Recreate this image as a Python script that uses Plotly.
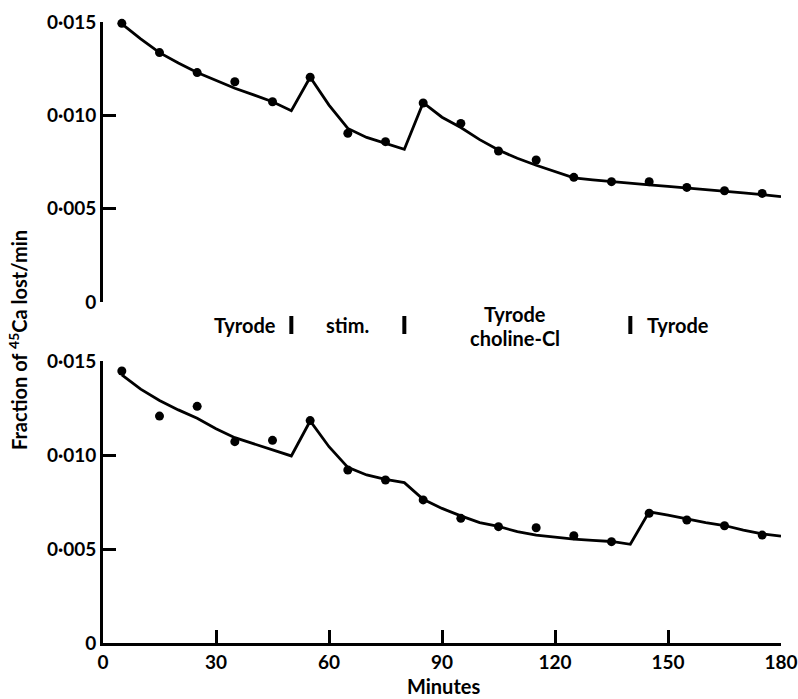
import plotly.graph_objects as go
from plotly.subplots import make_subplots

# ---- data ----
minutes_pts = [5, 15, 25, 35, 45, 55, 65, 75, 85, 95, 105, 115, 125, 135, 145, 155, 165, 175]
top_pts = [0.01493, 0.01336, 0.01229, 0.01180, 0.01073, 0.01204, 0.00904, 0.00859, 0.01066,
           0.00957, 0.00809, 0.00761, 0.00668, 0.00645, 0.00645, 0.00614, 0.00596, 0.00582]
bottom_pts = [0.01447, 0.01207, 0.01259, 0.01071, 0.01078, 0.01183, 0.00920, 0.00867, 0.00761,
              0.00663, 0.00619, 0.00613, 0.00571, 0.00539, 0.00690, 0.00654, 0.00624, 0.00574]

curve_x = [5, 10, 15, 20, 25, 30, 35, 40, 45, 50, 55, 60, 65, 70, 75, 80, 85, 90, 95, 100,
           105, 110, 115, 120, 125, 130, 135, 140, 145, 150, 155, 160, 165, 170, 175, 180]
top_curve = [0.0149, 0.0141, 0.01336, 0.0128, 0.01229, 0.01185, 0.01145, 0.0111, 0.01073, 0.01025,
             0.01204, 0.01055, 0.0093, 0.00882, 0.0085, 0.00818, 0.01068, 0.0099, 0.00935, 0.0087,
             0.00814, 0.0077, 0.00733, 0.00698, 0.00665, 0.00655, 0.00645, 0.00637, 0.00628, 0.0062,
             0.00612, 0.00603, 0.00595, 0.00585, 0.00576, 0.00565]
bottom_curve = [0.01426, 0.01350, 0.01290, 0.0124, 0.01195, 0.0114, 0.01092, 0.0106, 0.01027, 0.00995,
                0.01181, 0.01044, 0.00934, 0.00894, 0.0087, 0.00853, 0.00764, 0.00716, 0.00676, 0.0064,
                0.0062, 0.00592, 0.00574, 0.00562, 0.00553, 0.00546, 0.0054, 0.00525, 0.00698, 0.0068,
                0.0066, 0.0064, 0.00625, 0.0060, 0.0058, 0.00569]

x_ticks = [0, 30, 60, 90, 120, 150, 180]
y_ticks = [0, 0.005, 0.010, 0.015]
y_tick_labels = ["0", "0·005", "0·010", "0·015"]

transitions = [50, 80, 140]

FONT = "Lato"

fig = make_subplots(rows=2, cols=1, shared_xaxes=False, vertical_spacing=0.0)

for row, pts, curve in [(1, top_pts, top_curve), (2, bottom_pts, bottom_curve)]:
    fig.add_trace(go.Scatter(x=curve_x, y=curve, mode="lines",
                             line=dict(color="black", width=2.8), cliponaxis=False,
                             showlegend=False, hoverinfo="skip"), row=row, col=1)
    fig.add_trace(go.Scatter(x=minutes_pts, y=pts, mode="markers",
                             marker=dict(color="black", size=9), cliponaxis=False,
                             showlegend=False), row=row, col=1)

tickfont = dict(family=FONT, size=19, color="black", weight="bold")

fig.update_yaxes(range=[0, 0.015], tickvals=y_ticks, ticktext=y_tick_labels,
                 ticks="inside", ticklen=13, tickwidth=3, tickcolor="black",
                 showline=True, linewidth=3, linecolor="black", automargin=False,
                 showgrid=False, zeroline=False, tickfont=tickfont)
fig.update_xaxes(range=[0, 180], showgrid=False, zeroline=False, automargin=False)

fig.update_layout(
    yaxis=dict(domain=[0.549, 1.0]),
    yaxis2=dict(domain=[0.0, 0.4541]),
    xaxis=dict(visible=False, range=[0, 180]),
    xaxis2=dict(range=[0, 180], tickvals=x_ticks, ticks="inside", ticklen=13, tickwidth=3,
                tickcolor="black", showline=True, linewidth=3, linecolor="black",
                tickfont=tickfont),
    width=798, height=699,
    margin=dict(l=103, r=17, t=22, b=56),
    plot_bgcolor="white", paper_bgcolor="white",
    font=dict(family=FONT, color="black"),
)

labfont = dict(family=FONT, size=20, color="black", weight="bold")


def py(pix):
    return (699 - 56 - pix) / 621


ann = [
    dict(x=46.5, y=325, text="Tyrode", xanchor="right"),
    dict(x=65, y=325, text="stim.", xanchor="center"),
    dict(x=109.5, y=314, text="Tyrode", xanchor="center"),
    dict(x=109.5, y=338, text="choline-Cl", xanchor="center"),
    dict(x=143.8, y=325, text="Tyrode", xanchor="left"),
]
for a in ann:
    fig.add_annotation(x=a["x"], xref="x2", y=py(a["y"]), yref="paper",
                       text=a["text"], xanchor=a["xanchor"], yanchor="middle",
                       showarrow=False, font=labfont)

for t in transitions:
    fig.add_shape(type="line", x0=t, x1=t, xref="x2", y0=py(334), y1=py(316), yref="paper",
                  line=dict(color="black", width=4))

fig.add_annotation(x=(18 - 103) / 678, xref="paper", y=py(340), yref="paper",
                   text="Fraction of <sup>45</sup>Ca lost/min", textangle=-90,
                   showarrow=False, font=labfont, xanchor="center", yanchor="middle")
fig.add_annotation(x=(443 - 103) / 678, xref="paper", y=-(686 - 643) / 621, yref="paper",
                   text="Minutes", showarrow=False, font=labfont,
                   xanchor="center", yanchor="middle")

fig.write_html("out.html")
